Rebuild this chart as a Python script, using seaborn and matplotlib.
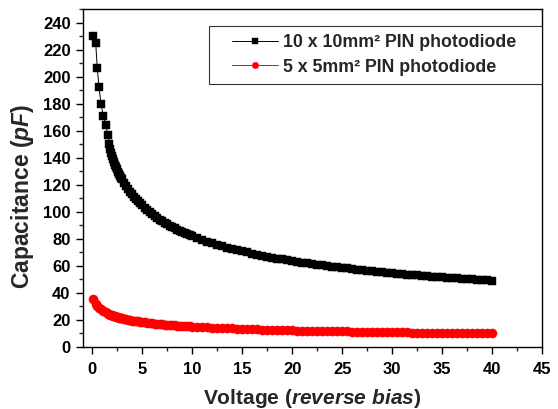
import matplotlib
matplotlib.use("Agg")
import matplotlib.pyplot as plt
from matplotlib.patches import Rectangle
from matplotlib.ticker import MultipleLocator
import seaborn as sns

# ---------------- data ----------------
voltage = [0.1, 0.34, 0.5, 0.67, 0.87, 1.1, 1.34, 1.57,
           1.7, 1.8, 1.9, 2.0, 2.1, 2.2, 2.3, 2.4, 2.5, 2.6, 2.7, 2.8, 2.9, 3.0,
           3.2, 3.4, 3.6, 3.8, 4.0, 4.2, 4.4, 4.6, 4.8, 5.0,
           5.25, 5.5, 5.75, 6.0, 6.25, 6.5, 6.75, 7.0, 7.25, 7.5, 7.75, 8.0,
           8.25, 8.5, 8.75, 9.0, 9.25, 9.5, 9.75, 10.0,
           10.5, 11.0, 11.5, 12.0, 12.5, 13.0, 13.5, 14.0, 14.5, 15.0,
           15.5, 16.0, 16.5, 17.0, 17.5, 18.0, 18.5, 19.0, 19.5, 20.0,
           20.5, 21.0, 21.5, 22.0, 22.5, 23.0, 23.5, 24.0, 24.5, 25.0,
           25.5, 26.0, 26.5, 27.0, 27.5, 28.0, 28.5, 29.0, 29.5, 30.0,
           30.5, 31.0, 31.5, 32.0, 32.5, 33.0, 33.5, 34.0, 34.5, 35.0,
           35.5, 36.0, 36.5, 37.0, 37.5, 38.0, 38.5, 39.0, 39.5, 40.0]

cap_10mm = [230.0, 225.0, 206.0, 192.0, 180.0, 171.0, 164.0, 156.5,
            150.5, 146.8, 143.8, 141.2, 139.0, 136.9, 134.9, 133.0, 131.3, 129.7, 128.2, 126.7, 125.3, 124.0,
            121.4, 119.1, 116.9, 114.8, 112.9, 111.0, 109.3, 107.7, 106.2, 104.7,
            102.9, 101.3, 99.8, 98.3, 96.9, 95.6, 94.3, 93.1, 92.0, 90.9, 89.8, 88.8,
            87.8, 86.9, 86.0, 85.2, 84.3, 83.5, 82.7, 82.0,
            80.6, 79.2, 77.9, 76.7, 75.6, 74.5, 73.5, 72.5, 71.6, 70.7,
            69.9, 69.1, 68.3, 67.5, 66.8, 66.1, 65.4, 64.8, 64.2, 63.6,
            63.0, 62.4, 61.9, 61.4, 60.8, 60.3, 59.9, 59.4, 58.9, 58.5,
            58.1, 57.6, 57.2, 56.8, 56.4, 56.1, 55.7, 55.3, 55.0, 54.6,
            54.3, 53.9, 53.6, 53.3, 53.0, 52.7, 52.4, 52.1, 51.8, 51.6,
            51.3, 51.0, 50.7, 50.5, 50.2, 50.0, 49.7, 49.5, 49.3, 49.0]

cap_5mm = [35.3, 32.0, 30.4, 29.1, 27.8, 26.6, 25.6, 24.7,
           24.2, 23.9, 23.6, 23.3, 23.1, 22.8, 22.6, 22.3, 22.1, 21.9, 21.7, 21.5, 21.3, 21.1,
           20.8, 20.4, 20.1, 19.8, 19.6, 19.3, 19.1, 18.9, 18.6, 18.4,
           18.2, 17.9, 17.7, 17.5, 17.3, 17.1, 16.9, 16.8, 16.6, 16.4, 16.3, 16.1,
           16.0, 15.9, 15.7, 15.6, 15.5, 15.4, 15.2, 15.1,
           14.9, 14.7, 14.5, 14.3, 14.2, 14.0, 13.9, 13.7, 13.6, 13.4,
           13.3, 13.2, 13.1, 12.9, 12.8, 12.7, 12.6, 12.5, 12.4, 12.3,
           12.2, 12.1, 12.1, 12.0, 11.9, 11.8, 11.7, 11.7, 11.6, 11.5,
           11.5, 11.4, 11.3, 11.3, 11.2, 11.1, 11.1, 11.0, 11.0, 10.9,
           10.9, 10.8, 10.8, 10.7, 10.7, 10.6, 10.6, 10.5, 10.5, 10.4,
           10.4, 10.3, 10.3, 10.2, 10.2, 10.2, 10.1, 10.1, 10.0, 10.0]

series_labels = ["10 x 10mm\u00b2 PIN photodiode", "5 x 5mm\u00b2 PIN photodiode"]
x_ticks = [0, 5, 10, 15, 20, 25, 30, 35, 40, 45]
y_ticks = [0, 20, 40, 60, 80, 100, 120, 140, 160, 180, 200, 220, 240]

# ---------------- style ----------------
sns.set_style("ticks")
plt.rcParams["font.family"] = ["Liberation Sans", "DejaVu Sans"]
plt.rcParams["font.weight"] = "bold"
plt.rcParams["mathtext.fontset"] = "custom"
plt.rcParams["mathtext.rm"] = "Liberation Sans:bold"
plt.rcParams["mathtext.it"] = "Liberation Sans:bold:italic"
plt.rcParams["mathtext.bf"] = "Liberation Sans:bold"

fig = plt.figure(figsize=(5.58, 4.09), dpi=100)
ax = fig.add_axes([83 / 558, 1 - 347 / 409, 459 / 558, 338 / 409])

sns.lineplot(x=voltage, y=cap_10mm, ax=ax, color="black", linewidth=0.7,
             marker="s", markersize=6.0, markeredgecolor="black",
             markeredgewidth=0.3, label=series_labels[0], sort=False)
sns.lineplot(x=voltage, y=cap_5mm, ax=ax, color="#ff0000", linewidth=0.7,
             marker="o", markersize=6.6, markeredgecolor="#ff0000",
             markeredgewidth=0.3, label=series_labels[1], sort=False)

ax.set_xlim(-0.93, 45)
ax.set_ylim(0, 250)
ax.set_xticks(x_ticks)
ax.set_yticks(y_ticks)
ax.xaxis.set_minor_locator(MultipleLocator(2.5))
ax.yaxis.set_minor_locator(MultipleLocator(10))
ax.tick_params(axis="both", which="major", direction="out", length=5, width=1,
               labelsize=12, colors="black")
ax.tick_params(axis="x", which="major", pad=6)
ax.tick_params(axis="y", which="major", pad=4)
ax.tick_params(axis="both", which="minor", direction="out", length=3, width=1)
for lab in ax.get_xticklabels() + ax.get_yticklabels():
    lab.set_fontweight("bold")
for sp in ax.spines.values():
    sp.set_visible(True)
    sp.set_linewidth(1.0)
    sp.set_color("black")

ax.set_xlabel(r"Voltage ($\mathit{reverse\ bias}$)", fontsize=15,
              fontweight="bold", labelpad=7)
ax.set_ylabel(r"Capacitance ($\mathit{pF}$)", fontsize=16.5,
              fontweight="bold")
ax.yaxis.set_label_coords(-0.103, 0.445)

# legend box drawn as its own frame, entries centred inside
ax.add_patch(Rectangle((0.2745, 0.7781), 1 - 0.2745, 0.9497 - 0.7781,
                       transform=ax.transAxes, facecolor="white",
                       edgecolor="#333333", linewidth=0.8, zorder=5))
leg = ax.legend(loc="center", bbox_to_anchor=(0.634, 0.864), frameon=False,
                fontsize=12.8, handlelength=2.6, handletextpad=0.25,
                labelspacing=0.4, markerscale=0.7)
leg.set_zorder(6)
for t in leg.get_texts():
    t.set_fontweight("bold")

fig.savefig("out.png", dpi=100)
